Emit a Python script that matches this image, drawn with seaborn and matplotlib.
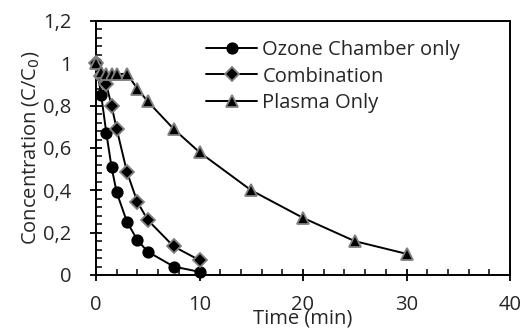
import matplotlib
matplotlib.use("Agg")
import matplotlib.pyplot as plt
from matplotlib.ticker import MultipleLocator, FuncFormatter
import seaborn as sns
import pandas as pd

ozone_t = [0, 0.5, 1, 1.5, 2, 3, 4, 5, 7.5, 10]
ozone_c = [1.0, 0.85, 0.67, 0.51, 0.39, 0.25, 0.165, 0.11, 0.04, 0.015]
comb_t = [0, 0.5, 1, 1.5, 2, 3, 4, 5, 7.5, 10]
comb_c = [1.0, 0.94, 0.90, 0.80, 0.69, 0.485, 0.345, 0.26, 0.135, 0.07]
plasma_t = [0, 0.5, 1, 1.5, 2, 3, 4, 5, 7.5, 10, 15, 20, 25, 30]
plasma_c = [1.0, 0.96, 0.95, 0.95, 0.95, 0.95, 0.88, 0.82, 0.69, 0.58, 0.40, 0.27, 0.16, 0.10]
labels = ["Ozone Chamber only", "Combination", "Plasma Only"]

sns.set_style("white")
plt.rcParams['font.family'] = ['Open Sans', 'DejaVu Sans']

fig = plt.figure(figsize=(5.23, 3.34), dpi=100)
ax = fig.add_axes([96/523, 1-275/334, (510-96)/523, (275-21)/334])

series = [
    (ozone_t, ozone_c, labels[0], 'o', 7.5, 'black'),
    (comb_t, comb_c, labels[1], 'D', 7, '#808080'),
    (plasma_t, plasma_c, labels[2], '^', 8.5, '#808080'),
]
for t, c, lab, m, ms, ec in series:
    df = pd.DataFrame({"t": t, "c": c})
    sns.lineplot(data=df, x="t", y="c", ax=ax, color='black', linewidth=1.4,
                 marker=m, markersize=ms, markerfacecolor='black',
                 markeredgecolor=ec, markeredgewidth=1.3, label=lab,
                 clip_on=False, zorder=3)

ax.set_xlim(0, 40)
ax.set_ylim(0, 1.2)
ax.xaxis.set_major_locator(MultipleLocator(10))
ax.xaxis.set_minor_locator(MultipleLocator(2))
ax.yaxis.set_major_locator(MultipleLocator(0.2))
ax.yaxis.set_minor_locator(MultipleLocator(0.04))
ax.yaxis.set_major_formatter(FuncFormatter(lambda v, p: f"{v:.1f}".replace('.', ',') if abs(v) > 1e-9 and abs(v-1) > 1e-9 else f"{v:.0f}"))

for s in ax.spines.values():
    s.set_visible(True)
    s.set_color('black')
    s.set_linewidth(1.4)

ax.tick_params(which='major', direction='inout', length=9, width=1.3, labelsize=14.5, color='black')
ax.tick_params(axis='x', which='major', pad=10)
ax.tick_params(axis='y', which='major', pad=13)
ax.tick_params(which='minor', direction='in', length=4.5, width=1.1, color='black')
ax.tick_params(axis='x', which='both', bottom=True, top=False)
ax.tick_params(axis='y', which='both', left=True, right=False)

ax.set_xlabel("Time (min)", fontsize=14.5, labelpad=-5)
ax.set_ylabel("Concentration (C/C$_0$)", fontsize=14.5, labelpad=2)

leg = ax.legend(loc='upper left', bbox_to_anchor=(0.246, 0.955), frameon=False, fontsize=14.5,
                handlelength=2.55, handletextpad=0.25, labelspacing=0.3, borderaxespad=0)

fig.savefig("out.png", dpi=100)
